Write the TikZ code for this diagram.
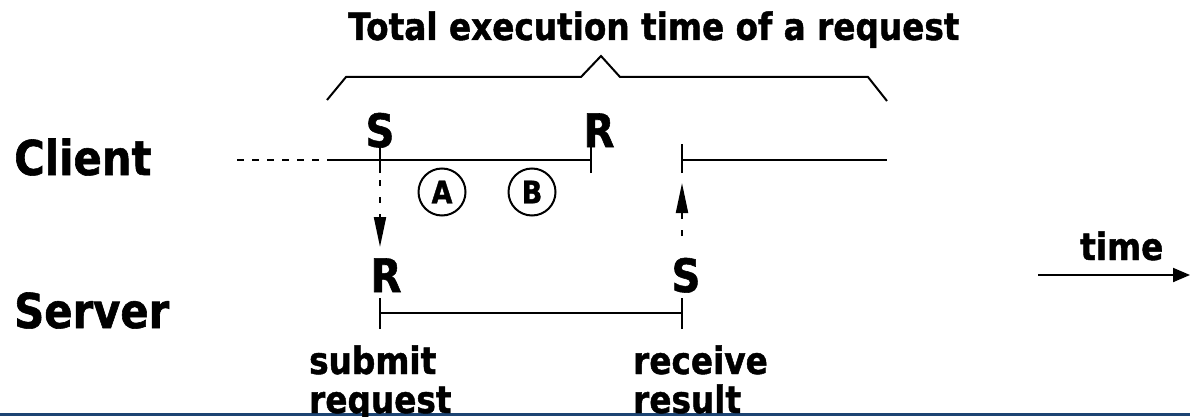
\documentclass[tikz,border=0pt]{standalone}
\usepackage{fontspec}
\setmainfont{DejaVu Sans}[FakeStretch=0.87,BoldFeatures={FakeBold=1.2}]
\usetikzlibrary{arrows.meta}
\definecolor{rulecol}{RGB}{28,68,115}
\tikzset{
  lbl/.style={inner sep=0pt, anchor=base west, font=\bfseries\fontsize{#1}{#1}\selectfont},
  evlbl/.style={inner sep=0pt, anchor=base, font=\bfseries\fontsize{46}{46}\selectfont},
  circ/.style={circle, draw, line width=2pt, minimum size=47pt, inner sep=0pt, font=\bfseries\fontsize{31}{31}\selectfont},
  ln/.style={line width=2pt},
  msg/.style={line width=2pt, dash pattern=on 6pt off 11pt, -{Triangle[length=30pt,width=12pt]}},
}
\begin{document}
\begin{tikzpicture}[x=1pt,y=-1pt]
\useasboundingbox (0,0) rectangle (1190,417);
% bottom rule
\draw[rulecol, line width=3pt] (0,414.5) -- (1190,414.5);
% title
\node[lbl=37.6] (title) at (348,40) {Total execution time of a request};
% brace
\coordinate (b1) at (327,100);
\coordinate (b2) at (346,77);
\coordinate (b3) at (581,77);
\coordinate (b4) at (601,56);
\coordinate (b5) at (620,77);
\coordinate (b6) at (868,77);
\coordinate (b7) at (887,101);
\draw[ln] (b1) -- (b2) -- (b3) -- (b4) -- (b5) -- (b6) -- (b7);
% row labels
\node[lbl=48] (client) at (14,175) {Client};
\node[lbl=48] (server) at (14,328) {Server};
% client timeline
\coordinate (cd) at (237,160);
\coordinate (c0) at (327,160);
\coordinate (cS) at (380,160);
\coordinate (cR) at (591,160);
\coordinate (c2) at (682,160);
\coordinate (c3) at (887,160);
\draw[ln, dash pattern=on 7pt off 8pt] (cd) -- (c0);
\draw[ln] (c0) -- (cR);
\draw[ln] (c2) -- (c3);
\draw[ln] ([yshift=-13pt]cS) -- ([yshift=16pt]cS);
\draw[ln] ([yshift=-13pt]cR) -- ([yshift=16pt]cR);
\draw[ln] ([yshift=-13pt]c2) -- ([yshift=16pt]c2);
\node[evlbl] (lS) at (380,147) {S};
\node[evlbl] (lR) at (599,147) {R};
\node[circ] (A) at (442,192) {A};
\node[circ] (B) at (532,192) {B};
% server timeline
\coordinate (sR) at (380,313);
\coordinate (sS) at (682,313);
\draw[ln] (sR) -- (sS);
\draw[ln] ([yshift=-16pt]sR) -- ([yshift=15pt]sR);
\draw[ln] ([yshift=-16pt]sS) -- ([yshift=15pt]sS);
\node[evlbl] (mR) at (386,292) {R};
\node[evlbl] (mS) at (686,292) {S};
% messages
\coordinate (m1a) at (380,180);
\coordinate (m1b) at (380,247);
\coordinate (m2a) at (682,236);
\coordinate (m2b) at (682,183);
\draw[msg] (m1a) -- (m1b);
\draw[msg] (m2a) -- (m2b);
% bottom labels
\node[lbl=37.6] (sub1) at (309,374) {submit};
\node[lbl=37.6] (sub2) at (309,413) {request};
\node[lbl=37.6] (rec1) at (633,374) {receive};
\node[lbl=37.6] (rec2) at (633,413) {result};
% time arrow
\node[lbl=37.6] (time) at (1080,260) {time};
\coordinate (t0) at (1038,275);
\coordinate (t1) at (1190,275);
\draw[ln, -{Triangle[length=17pt,width=14pt]}] (t0) -- (t1);
\end{tikzpicture}
\end{document}
